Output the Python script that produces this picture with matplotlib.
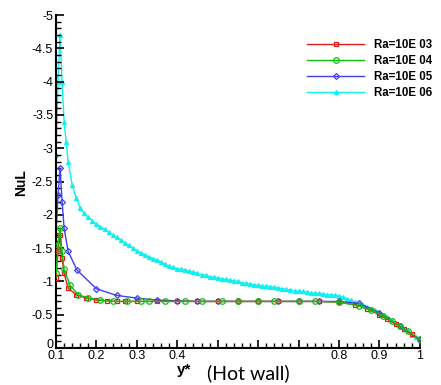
import matplotlib
matplotlib.use("Agg")
import matplotlib.pyplot as plt
import matplotlib.transforms as mtransforms
from matplotlib.ticker import MultipleLocator, FixedLocator, FixedFormatter

plt.rcParams['font.family'] = ['Liberation Sans', 'DejaVu Sans']
plt.rcParams['axes.unicode_minus'] = False

# Ra = 10E03
x_ra3 = [0.10, 0.105, 0.11, 0.115, 0.12, 0.13, 0.15, 0.175, 0.20, 0.225, 0.25, 0.27,
         0.30, 0.35, 0.40, 0.45, 0.50, 0.55, 0.60, 0.65, 0.70, 0.75, 0.80, 0.84,
         0.87, 0.90, 0.92, 0.94, 0.96, 0.98, 1.00]
y_ra3 = [-1.05, -1.45, -1.70, -1.35, -1.12, -0.90, -0.80, -0.75, -0.72, -0.71, -0.70, -0.70,
         -0.70, -0.70, -0.70, -0.70, -0.70, -0.70, -0.70, -0.70, -0.70, -0.70, -0.69, -0.65,
         -0.59, -0.50, -0.43, -0.36, -0.29, -0.21, -0.13]

# Ra = 10E04
x_ra4 = [0.10, 0.105, 0.11, 0.115, 0.12, 0.135, 0.155, 0.18, 0.21, 0.24, 0.275,
         0.31, 0.33, 0.37, 0.42, 0.46, 0.51, 0.55, 0.60, 0.64, 0.70, 0.74, 0.80, 0.85,
         0.88, 0.91, 0.93, 0.95, 0.97, 1.00]
y_ra4 = [-1.12, -1.55, -1.80, -1.45, -1.18, -0.94, -0.80, -0.75, -0.72, -0.70, -0.70,
         -0.70, -0.70, -0.70, -0.70, -0.70, -0.70, -0.70, -0.70, -0.70, -0.70, -0.70, -0.69, -0.63,
         -0.57, -0.48, -0.41, -0.33, -0.26, -0.13]

# Ra = 10E05
x_ra5 = [0.10, 0.105, 0.11, 0.115, 0.12, 0.13, 0.152, 0.20, 0.25, 0.30, 0.35, 0.40,
         0.45, 0.50, 0.55, 0.60, 0.65, 0.70, 0.75, 0.80, 0.85, 0.90, 0.95, 1.00]
y_ra5 = [-1.70, -2.30, -2.70, -2.20, -1.80, -1.45, -1.17, -0.89, -0.79, -0.75, -0.72, -0.71,
         -0.70, -0.70, -0.70, -0.70, -0.70, -0.70, -0.70, -0.70, -0.67, -0.53, -0.33, -0.12]

# Ra = 10E06
x_ra6 = [0.100, 0.105, 0.110, 0.115, 0.120, 0.125, 0.130] + [round(0.14 + 0.01 * i, 2) for i in range(87)]
y_ra6 = [-2.90, -4.00, -4.70, -4.00, -3.40, -3.10, -2.80,
         -2.45, -2.25, -2.10, -2.02, -1.96, -1.91, -1.86, -1.82, -1.78, -1.74,
         -1.70, -1.66, -1.62, -1.58, -1.54, -1.50, -1.46, -1.43, -1.40, -1.37,
         -1.34, -1.32, -1.29, -1.26, -1.23, -1.21, -1.19, -1.18, -1.17, -1.15,
         -1.14, -1.12, -1.10, -1.09, -1.07, -1.06, -1.05, -1.04, -1.03, -1.02,
         -1.01, -1.00, -0.98, -0.97, -0.96, -0.95, -0.94, -0.93, -0.93, -0.92,
         -0.91, -0.90, -0.89, -0.88, -0.87, -0.86, -0.85, -0.85, -0.84, -0.83,
         -0.82, -0.82, -0.81, -0.80, -0.80, -0.79, -0.78, -0.76, -0.74, -0.72,
         -0.69, -0.67, -0.65, -0.62, -0.59, -0.57, -0.54, -0.50, -0.46, -0.42,
         -0.38, -0.33, -0.29, -0.25, -0.20, -0.16, -0.12]

labels = ['Ra=10E 03', 'Ra=10E 04', 'Ra=10E 05', 'Ra=10E 06']
x_ticks = [0.1, 0.2, 0.3, 0.4, 0.5, 0.6, 0.7, 0.8, 0.9, 1.0]
x_tick_labels = ['0.1', '0.2', '0.3', '0.4', '', '', '', '0.8', '0.9', '1']

fig = plt.figure(figsize=(4.41, 3.85), dpi=100)
ax = fig.add_axes([0.127, 0.096, 0.825, 0.865])

ax.plot(x_ra3, y_ra3, color='#e81818', lw=1.0, marker='s', ms=3.5, mfc='none', mew=0.9, label=labels[0], zorder=3)
ax.plot(x_ra4, y_ra4, color='#10c010', lw=1.0, marker='o', ms=4, mfc='none', mew=0.9, label=labels[1], zorder=4)
ax.plot(x_ra5, y_ra5, color='#4040f0', lw=1.0, marker='D', ms=3, mfc='none', mew=0.9, label=labels[2], zorder=2)
ax.plot(x_ra6, y_ra6, color='#10f0f0', lw=1.0, marker='^', ms=3, mfc='#10f0f0', mew=0.8, label=labels[3], zorder=1)

ax.set_xlim(0.1, 1.0)
ax.set_ylim(0, -5)
ax.xaxis.set_major_locator(FixedLocator(x_ticks))
ax.xaxis.set_major_formatter(FixedFormatter(x_tick_labels))
ax.xaxis.set_minor_locator(MultipleLocator(0.02))
ax.yaxis.set_major_locator(MultipleLocator(0.5))
ax.yaxis.set_minor_locator(MultipleLocator(0.1))
ax.yaxis.set_major_formatter(plt.FuncFormatter(lambda v, p: '%g' % round(v, 2)))

for s in ['top', 'right']:
    ax.spines[s].set_visible(False)
for s in ['left', 'bottom']:
    ax.spines[s].set_linewidth(1.5)
ax.tick_params(which='major', direction='in', length=6, width=1.2, labelsize=9, pad=2)
ax.tick_params(axis='x', which='major', pad=1.5)
ax.tick_params(which='minor', direction='in', length=3.5, width=1.0)

fig.canvas.draw()
# nudge the "0" label on the y axis up a little, as in the reference
for lbl in ax.get_yticklabels():
    if lbl.get_text() == '0':
        lbl.set_transform(lbl.get_transform() + mtransforms.ScaledTranslation(0, 5 / 100, fig.dpi_scale_trans))

leg = ax.legend(loc='upper left', bbox_to_anchor=(0.672, 0.925), bbox_transform=fig.transFigure,
                frameon=False, prop={'weight': 'bold', 'size': 8.3}, handlelength=5.0,
                handletextpad=0.85, labelspacing=0.33, borderpad=0.4)

fig.text(0.048, 0.525, 'NuL', rotation=90, fontsize=10, fontweight='bold', ha='center', va='center')
fig.text(0.401, 0.04, 'y*', fontsize=11, fontweight='bold', ha='left', va='center')
fig.text(0.47, 0.03, '(Hot wall)', fontsize=14, family=['Lato', 'DejaVu Sans'], ha='left', va='center')

fig.savefig('out.png', dpi=100)
